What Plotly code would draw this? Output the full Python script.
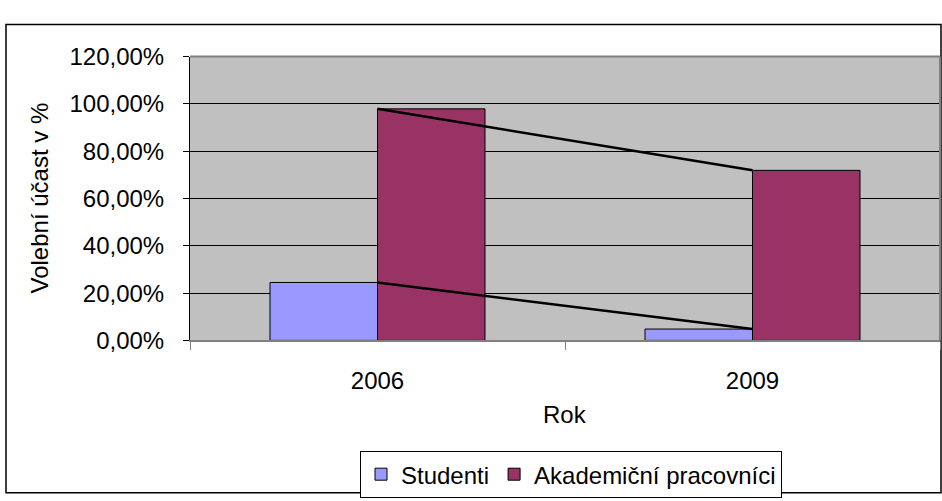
import plotly.graph_objects as go

# Volební účast podle roku
years = ["2006", "2009"]
studenti = [24.5, 4.8]
akademicti = [97.9, 71.9]
series_names = ["Studenti", "Akademiční pracovníci"]
y_ticks = [0, 20, 40, 60, 80, 100, 120]
y_tick_labels = [f"{v:.2f}".replace(".", ",") + "%" for v in y_ticks]

W, H = 942, 501
FONT = dict(family="Liberation Sans, Arial, sans-serif", size=24, color="black")

xpos = list(range(len(years)))

fig = go.Figure()
fig.add_trace(go.Bar(
    x=xpos, y=studenti, name=series_names[0],
    marker=dict(color="#9999FF", line=dict(color="black", width=1)),
))
fig.add_trace(go.Bar(
    x=xpos, y=akademicti, name=series_names[1],
    marker=dict(color="#993366", line=dict(color="black", width=1)),
))
# series lines joining the values of each series across the years
for vals in (studenti, akademicti):
    fig.add_trace(go.Scatter(
        x=xpos, y=vals, mode="lines", showlegend=False,
        line=dict(color="black", width=2.5), hoverinfo="skip",
    ))

px = lambda v: v / W
py = lambda v: 1 - v / H

fig.update_layout(
    width=W, height=H,
    margin=dict(l=0, r=0, t=0, b=0),
    paper_bgcolor="white",
    plot_bgcolor="#C0C0C0",
    font=FONT,
    barmode="group",
    bargap=0.4267,
    bargroupgap=0,
    showlegend=True,
    legend=dict(
        orientation="h", x=px(360), xanchor="left", y=py(462), yanchor="top",
        bordercolor="black", borderwidth=1, bgcolor="white",
        font=FONT, itemwidth=30, traceorder="normal",
    ),
    xaxis=dict(
        domain=[px(190), px(940)],
        range=[-0.5, 1.5],
        tickmode="array", tickvals=xpos, ticktext=years,
        ticks="", showgrid=False, zeroline=False,
        showline=True, linecolor="#808080", linewidth=2,
        ticklabelstandoff=18,
        minor=dict(tickmode="array", tickvals=[-0.5, 0.5, 1.5],
                   ticks="outside", ticklen=8, tickcolor="#808080", tickwidth=1),
        mirror=False,
    ),
    yaxis=dict(
        domain=[py(345), py(45)],
        range=[0, 120],
        tickmode="array", tickvals=y_ticks, ticktext=y_tick_labels,
        ticks="outside", ticklen=6, tickcolor="black",
        showgrid=True, gridcolor="black", gridwidth=1,
        zeroline=False, showline=True, linecolor="black", linewidth=1,
        ticklabelstandoff=14,
    ),
    annotations=[
        dict(text="Volební účast v %", x=px(39), y=py(195), xref="paper", yref="paper",
             textangle=-90, showarrow=False, font=FONT, xanchor="center", yanchor="middle"),
        dict(text="Rok", x=px(565), y=py(423), xref="paper", yref="paper",
             showarrow=False, font=FONT, xanchor="center", yanchor="middle"),
    ],
    shapes=[
        # plot area frame (top and right edges)
        dict(type="line", xref="paper", yref="paper", x0=px(190), x1=px(940), y0=py(45), y1=py(45),
             line=dict(color="#808080", width=2)),
        dict(type="line", xref="paper", yref="paper", x0=px(940), x1=px(940), y0=py(45), y1=py(345),
             line=dict(color="#808080", width=2)),
        # chart border
        dict(type="rect", xref="paper", yref="paper", x0=px(6), x1=px(941), y0=-0.01, y1=py(11),
             line=dict(color="black", width=1.5), layer="below"),
    ],
)

fig.write_html("out.html")
